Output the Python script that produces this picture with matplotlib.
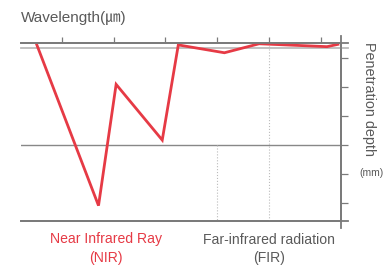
import matplotlib.pyplot as plt

# wavelength position (in top-tick units) and penetration depth (in right-tick units)
wave = [0.52, 1.71, 2.05, 2.94, 3.25, 4.14, 4.81, 6.12, 6.33]
depth = [0.56, 6.10, 1.92, 3.84, 0.56, 0.83, 0.52, 0.62, 0.54]
top_ticks = [1, 2, 3, 4, 5, 6]
right_ticks = [1, 2, 3, 4, 5, 6]

red = '#e63a45'
grey = '#5a5a5a'
fam = ['Liberation Sans', 'Noto Sans CJK JP', 'DejaVu Sans']

fig = plt.figure(figsize=(3.84, 2.66), dpi=100)
ax = fig.add_axes([0.0547, 0.1692, 0.8333, 0.6703])
ax.set_xlim(0.214, 6.39)
ax.set_ylim(6.63, 0.483)

ax.spines['left'].set_visible(False)
for s in ['top', 'bottom', 'right']:
    ax.spines[s].set_color('#7a7a7a')
    ax.spines[s].set_linewidth(1.3)

ax.xaxis.tick_top()
ax.set_xticks(top_ticks)
ax.set_xticklabels([])
ax.tick_params(axis='x', direction='out', length=4, width=0.9, color='#7a7a7a')
ax.yaxis.tick_right()
ax.set_yticks(right_ticks)
ax.set_yticklabels([])
ax.tick_params(axis='y', direction='out', length=5, width=0.9, color='#7a7a7a')

# right axis extends past top and bottom, top/bottom lines extend past right axis
ax.plot([1, 1], [-0.038, 1.036], transform=ax.transAxes, color='#7a7a7a', lw=1.3, clip_on=False)
ax.plot([0, 1.022], [1, 1], transform=ax.transAxes, color='#7a7a7a', lw=1.3, clip_on=False)
ax.plot([0, 1.022], [0, 0], transform=ax.transAxes, color='#7a7a7a', lw=1.3, clip_on=False)

# reference lines
ax.plot([0.214, 6.39 + 0.14], [0.666, 0.666], color='#bbbbbb', lw=1.3, clip_on=False)
ax.axhline(4.0, color='#888888', lw=1.0)
ax.plot([4.0, 4.0], [4.0, 6.63], color='#bbbbbb', lw=0.8, ls=':')
ax.plot([5.0, 5.0], [0.483, 6.63], color='#bbbbbb', lw=0.8, ls=':')

ax.plot(wave, depth, color=red, lw=2.0, solid_joinstyle='miter')

fig.text(21 / 384, 1 - 18 / 266, 'Wavelength(㎛)', fontsize=11, color=grey,
         family=fam, ha='left', va='center')
fig.text(369 / 384, 1 - 99 / 266, 'Penetration depth', fontsize=10.4, color=grey,
         family=fam, rotation=-90, ha='center', va='center')
fig.text(371 / 384, 1 - 173 / 266, '(mm)', fontsize=7.5, color=grey,
         family=fam, ha='center', va='center')
fig.text(106 / 384, 1 - 239.5 / 266, 'Near Infrared Ray', fontsize=10.1, color=red,
         family=fam, ha='center', va='center')
fig.text(106 / 384, 1 - 258 / 266, '(NIR)', fontsize=10.1, color=red,
         family=fam, ha='center', va='center')
fig.text(269 / 384, 1 - 239.5 / 266, 'Far-infrared radiation', fontsize=10.1, color=grey,
         family=fam, ha='center', va='center')
fig.text(269 / 384, 1 - 258 / 266, '(FIR)', fontsize=10.1, color=grey,
         family=fam, ha='center', va='center')

fig.savefig('out.png', dpi=100)
